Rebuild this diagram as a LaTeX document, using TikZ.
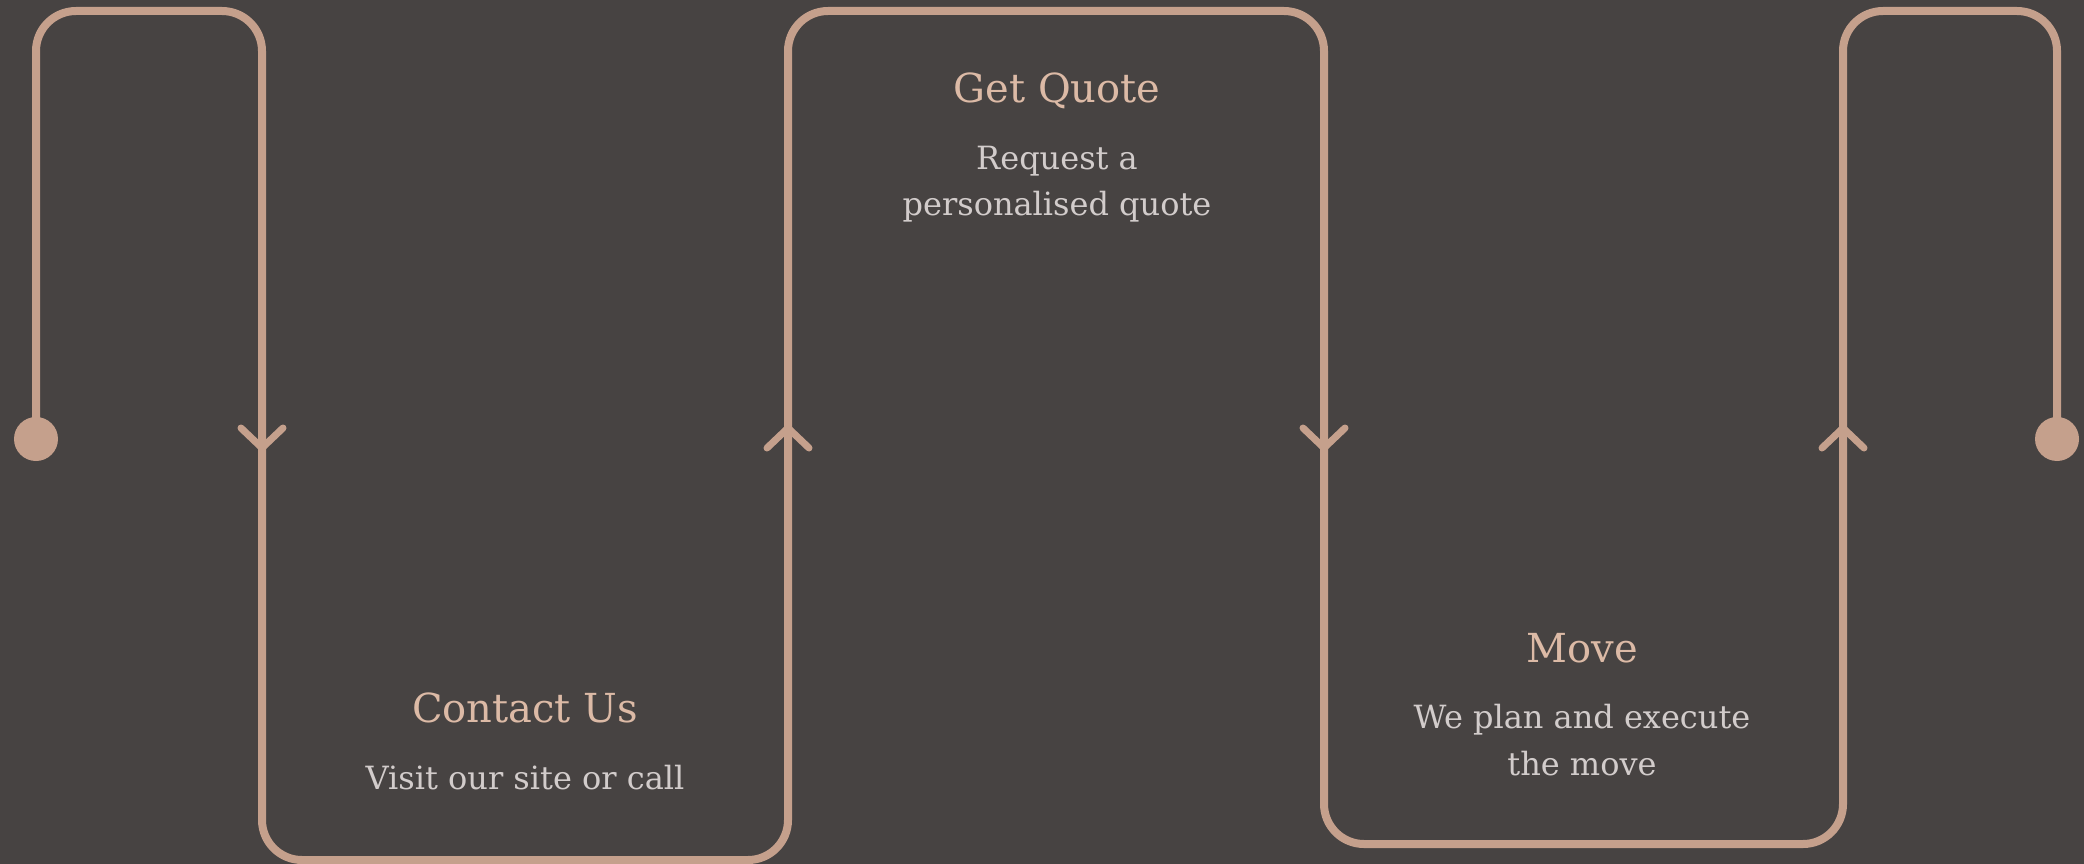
\documentclass[tikz,border=0pt]{standalone}
\usepackage{fontspec}
\setmainfont{DejaVu Serif}
\usepackage{tikz}
\usetikzlibrary{calc}

\definecolor{bgdark}{RGB}{71,67,66}
\definecolor{tanline}{RGB}{197,160,140}
\definecolor{titletan}{RGB}{220,186,166}
\definecolor{bodygrey}{RGB}{210,204,203}

\tikzset{
  flow/.style={draw=tanline, line width=8pt, rounded corners=40pt, line join=round},
  chev/.style={draw=tanline, line width=7pt, line cap=round, line join=miter},
  enddot/.style={circle, fill=tanline, minimum size=44pt, inner sep=0pt},
  steptitle/.style={text=titletan, font=\fontsize{40}{48}\selectfont, inner sep=0pt},
  steptext/.style={text=bodygrey, font=\fontsize{32}{46.5}\selectfont, align=center, inner sep=0pt},
  chevdown/.pic={\draw[chev] (-21,10) -- (0,-10) -- (21,10);},
  chevup/.pic={\draw[chev] (-21,-10) -- (0,10) -- (21,-10);}
}

\begin{document}
\begin{tikzpicture}[x=1pt,y=1pt,yscale=-1,xscale=1]
%Background
\fill[bgdark] (0,0) rectangle (2084,864);
\useasboundingbox (0,0) rectangle (2084,864);

%Dots
\node[enddot] (startdot) at (36,439) {};
\node[enddot] (stopdot) at (2057,439) {};

%Corners of the line
\coordinate (t1) at (36,11);
\coordinate (t2) at (262,11);
\coordinate (b1) at (262,860);
\coordinate (b2) at (788,860);
\coordinate (t3) at (788,11);
\coordinate (t4) at (1324,11);
\coordinate (b3) at (1324,844);
\coordinate (b4) at (1843,844);
\coordinate (t5) at (1843,11);
\coordinate (t6) at (2057,11);

%Line
\draw[flow] (startdot.center) -- (t1) -- (t2) -- (b1) -- (b2) -- (t3) -- (t4)
  -- (b3) -- (b4) -- (t5) -- (t6) -- (stopdot.center);

%Chevrons
\pic at (262,438) {chevdown};
\pic at (788,438) {chevup};
\pic at (1324,438) {chevdown};
\pic at (1843,438) {chevup};

% Text Node
\node[steptitle] (contact) at (525,708) {Contact Us};
\node[steptext] (contacttxt) at (525,778) {Visit our site or call};
% Text Node
\node[steptitle] (quote) at (1057,91) {Get Quote};
\node[steptext] (quotetxt) at (1057,184) {Request a\\personalised quote};
% Text Node
\node[steptitle] (move) at (1582,648) {Move};
\node[steptext] (movetxt) at (1582,740) {We plan and execute\\the move};
\end{tikzpicture}
\end{document}
